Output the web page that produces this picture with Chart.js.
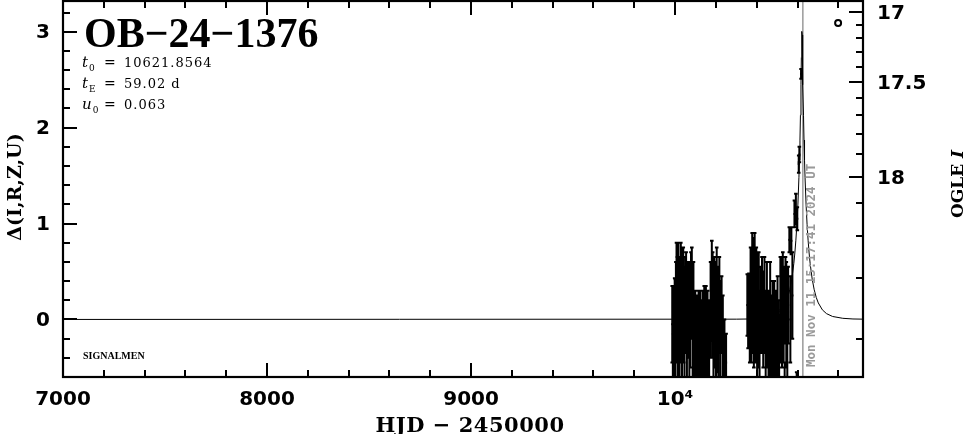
<!DOCTYPE html>
<html>
<head>
<meta charset="utf-8">
<script src="https://cdn.jsdelivr.net/npm/chart.js@4/dist/chart.umd.min.js"></script>
<style>
  html, body { margin: 0; padding: 0; background: #fff; }
  canvas { display: block; }
</style>
</head>
<body>
<canvas id="lc" width="966" height="434"></canvas>
<script>
// OGLE light curve OB-24-1376

const xMajorTicks = [7000, 8000, 9000, 10000];
const xMinorTicks = [7200, 7400, 7600, 7800, 8200, 8400, 8600, 8800,
                     9200, 9400, 9600, 9800, 10200, 10400, 10600, 10800];
const yMajorTicks = [0, 1, 2, 3];
const yMinorTicks = [-0.4, -0.2, 0.2, 0.4, 0.6, 0.8, 1.2, 1.4, 1.6, 1.8,
                     2.2, 2.4, 2.6, 2.8, 3.2];
// OGLE I magnitude ticks on the right, and where they sit on the delta axis
const magLabels = ['17', '', '', '', '', '17.5', '', '', '', '', '18', '', '', '', ''];
const magTickPos = [3.204, 3.069, 2.933, 2.787, 2.631, 2.475, 2.308, 2.131,
                    1.933, 1.725, 1.484, 1.213, 0.869, 0.431, -0.205];

// observations: HJD-2450000, delta, error
const obsHjd = [
  9986, 9989, 9992, 9995, 9998, 10001, 10004,
  10007, 10010, 10013, 10016, 10019, 10022, 10025, 10028, 10031, 10034, 10037, 10040, 10043, 10046,
  10050, 10054, 10058, 10062, 10066, 10070, 10074, 10078, 10082, 10086, 10090, 10094,
  10099, 10103, 10107, 10111, 10115, 10119, 10123, 10127, 10131, 10135, 10139, 10143, 10147, 10151,
  10155, 10159, 10163, 10167,
  10174, 10180, 10184, 10188, 10192, 10196, 10200, 10204, 10208, 10212, 10217, 10222, 10228, 10234,
  10242, 10250,
  10354, 10358, 10362, 10366, 10370, 10374, 10378, 10382, 10386, 10390, 10394, 10398, 10402, 10406,
  10410, 10414, 10420, 10426, 10432, 10438, 10444, 10450,
  10458, 10462, 10466, 10470, 10474, 10478, 10482, 10486, 10490, 10494, 10498, 10502, 10506, 10510,
  10516, 10520, 10524, 10528, 10532, 10537, 10541, 10545, 10550, 10554, 10560, 10565, 10570, 10575,
  10585, 10592, 10596, 10599, 10606, 10609, 10617.5
];
const obsDelta = [
  -0.05, -0.15, 0.02, -0.25, 0.05, -0.10, 0.15,
  0.30, 0.10, -0.05, 0.30, 0.20, -0.15, 0.25, 0.35, 0.10, -0.10, 0.20, 0.30, 0.05, -0.20,
  0.15, 0.25, -0.05, 0.10, 0.20, -0.20, 0.05, 0.25, 0.30, -0.10, 0.15, -0.25,
  -0.15, -0.30, 0.00, -0.40, -0.20, -0.35, -0.10, -0.45, -0.25, -0.05, -0.35, -0.20, -0.50, -0.15,
  -0.30, 0.05, -0.40, -0.25,
  0.10, 0.30, 0.15, -0.10, 0.20, 0.05, -0.20, 0.25, 0.00, -0.30, 0.15, -0.15, 0.05, -0.25,
  -0.40, -0.45,
  0.15, 0.05, 0.20, -0.05, 0.25, 0.10, 0.35, 0.25, 0.05, 0.40, 0.15, 0.30, -0.10, 0.20,
  0.10, -0.20, 0.10, 0.15, 0.00, 0.15, -0.15, 0.05,
  -0.20, -0.35, 0.05, -0.25, -0.45, -0.10, -0.30, 0.00, -0.40, -0.15, -0.35, -0.05, -0.25, -0.45,
  0.10, 0.15, -0.05, 0.15, 0.05, -0.75, 0.20, 0.05, -0.10, 0.15, 0.83, 0.00, 0.82, 0.25,
  1.10, 1.15, -0.95, 1.05, 1.62, 1.72, 2.56
];
const obsErr = [
  0.40, 0.50, 0.30, 0.48, 0.38, 0.52, 0.45,
  0.50, 0.55, 0.55, 0.50, 0.45, 0.55, 0.40, 0.45, 0.55, 0.50, 0.55, 0.45, 0.50, 0.45,
  0.50, 0.45, 0.55, 0.50, 0.40, 0.55, 0.55, 0.45, 0.45, 0.55, 0.45, 0.50,
  0.45, 0.50, 0.25, 0.45, 0.50, 0.55, 0.40, 0.50, 0.45, 0.35, 0.50, 0.55, 0.45, 0.50,
  0.40, 0.25, 0.55, 0.45,
  0.50, 0.52, 0.55, 0.50, 0.45, 0.55, 0.45, 0.50, 0.55, 0.40, 0.50, 0.55, 0.40, 0.50,
  0.40, 0.30,
  0.32, 0.35, 0.28, 0.40, 0.50, 0.55, 0.55, 0.60, 0.55, 0.50, 0.60, 0.45, 0.55, 0.50,
  0.60, 0.50, 0.45, 0.50, 0.50, 0.50, 0.45, 0.55,
  0.50, 0.45, 0.55, 0.50, 0.45, 0.50, 0.55, 0.40, 0.50, 0.45, 0.55, 0.50, 0.45, 0.50,
  0.55, 0.50, 0.45, 0.55, 0.50, 0.30, 0.45, 0.55, 0.50, 0.40, 0.13, 0.45, 0.14, 0.45,
  0.14, 0.16, 0.40, 0.12, 0.09, 0.08, 0.05
];

// model curve (thin line)
const modelHjd = [
  7000, 10300, 10372, 10422, 10472, 10502, 10522, 10542, 10552, 10562, 10572, 10582, 10587,
  10592, 10597, 10602, 10607, 10609.4, 10612, 10614.4, 10617, 10618.9, 10619.9, 10620.9,
  10621.9, 10622.9, 10623.9, 10624.9, 10626.9, 10629.4, 10631.9, 10634.4, 10636.9, 10641.9,
  10646.9, 10651.9, 10656.9, 10661.9, 10671.9, 10681.9, 10691.9, 10701.9, 10721.9, 10741.9,
  10771.9, 10821.9, 10871.9, 10922
];
const modelDelta = [
  0, 0.003, 0.005, 0.012, 0.031, 0.061, 0.100, 0.172, 0.229, 0.309, 0.422, 0.584, 0.693,
  0.826, 0.992, 1.203, 1.482, 1.659, 1.870, 2.129, 2.446, 2.732, 2.866, 2.966,
  3.003, 2.966, 2.866, 2.732, 2.446, 2.129, 1.870, 1.659, 1.482, 1.203,
  0.992, 0.826, 0.693, 0.584, 0.422, 0.309, 0.229, 0.172, 0.100, 0.061,
  0.031, 0.012, 0.005, 0.003
];

const nowHjd = 10626.14;       // Mon Nov 11 15:17:41 2024 UT
const markerHjd = 10799;
const markerDelta = 3.09;

const xMin = 7000, xMax = 10921;
const yMin = -0.6, yMax = 3.32;

const tickFont = { family: 'DejaVu Sans', size: 20, weight: 'bold' };

const noPad = s => { s.paddingTop = 0; s.paddingBottom = 0; s.paddingLeft = 0; s.paddingRight = 0; };

// error bars under the points
const errorBars = {
  id: 'errorBars',
  beforeDatasetsDraw(chart) {
    const { ctx, chartArea: a, scales: { x, y } } = chart;
    ctx.save();
    ctx.beginPath();
    ctx.rect(a.left, a.top, a.right - a.left, a.bottom - a.top);
    ctx.clip();
    ctx.strokeStyle = '#000';
    ctx.lineWidth = 2;
    ctx.beginPath();
    for (let i = 0; i < obsHjd.length; i++) {
      const px = x.getPixelForValue(obsHjd[i]);
      const lo = y.getPixelForValue(obsDelta[i] - obsErr[i]);
      const hi = y.getPixelForValue(obsDelta[i] + obsErr[i]);
      ctx.moveTo(px, lo); ctx.lineTo(px, hi);
      ctx.moveTo(px - 1.8, lo); ctx.lineTo(px + 1.8, lo);
      ctx.moveTo(px - 1.8, hi); ctx.lineTo(px + 1.8, hi);
    }
    ctx.stroke();
    ctx.restore();
  }
};

// box and inward tick marks
const frame = {
  id: 'frame',
  afterDraw(chart) {
    const { ctx, chartArea: a, scales: { x, y, yR } } = chart;
    ctx.save();
    ctx.strokeStyle = '#000';
    ctx.lineWidth = 2;
    ctx.beginPath();
    const tx = (v, len) => {
      const px = Math.round(x.getPixelForValue(v));
      ctx.moveTo(px, a.bottom); ctx.lineTo(px, a.bottom - len);
      ctx.moveTo(px, a.top); ctx.lineTo(px, a.top + len);
    };
    xMajorTicks.forEach(v => tx(v, 14));
    xMinorTicks.forEach(v => tx(v, 7));
    const ty = (v, len) => {
      const py = Math.round(y.getPixelForValue(v));
      ctx.moveTo(a.left, py); ctx.lineTo(a.left + len, py);
    };
    yMajorTicks.forEach(v => ty(v, 14));
    yMinorTicks.forEach(v => ty(v, 7));
    magTickPos.forEach((v, i) => {
      const py = Math.round(yR.getPixelForValue(v));
      const len = magLabels[i] ? 14 : 7;
      ctx.moveTo(a.right, py); ctx.lineTo(a.right - len, py);
    });
    ctx.stroke();
    ctx.lineWidth = 2.2;
    ctx.strokeRect(a.left, a.top, a.right - a.left, a.bottom - a.top);
    ctx.restore();
  }
};

// titles and annotations
const labels = {
  id: 'labels',
  afterDraw(chart) {
    const { ctx, chartArea: a, scales: { x } } = chart;
    ctx.save();
    ctx.fillStyle = '#000';
    ctx.textBaseline = 'alphabetic';

    ctx.font = 'bold 42px "Liberation Serif"';
    ctx.fillText('OB\u221224\u22121376', 84, 47);

    const param = (base, sym, sub, rest) => {
      ctx.font = 'italic 15px "DejaVu Serif"';
      ctx.letterSpacing = '0px';
      ctx.fillText(sym, 82, base);
      const w = ctx.measureText(sym).width;
      ctx.font = '9px "DejaVu Serif"';
      ctx.fillText(sub, 82 + w + 1, base + 4);
      ctx.font = '14px "DejaVu Serif"';
      ctx.fillText('=', 104, base);
      ctx.font = '13px "DejaVu Serif"';
      ctx.letterSpacing = '1px';
      ctx.fillText(rest, 124, base);
      ctx.letterSpacing = '0px';
    };
    param(67, 't', '0', '10621.8564');
    param(88, 't', 'E', '59.02 d');
    param(109, 'u', '0', '0.063');

    ctx.font = 'bold 10px "Liberation Serif"';
    ctx.fillText('SIGNALMEN', 83, 359);

    ctx.font = 'bold 21px "DejaVu Serif"';
    ctx.textAlign = 'center';
    ctx.letterSpacing = '0.5px';
    ctx.fillText('HJD \u2212 2450000', 470, 432);
    ctx.letterSpacing = '0px';

    ctx.save();
    ctx.translate(21, 187);
    ctx.rotate(-Math.PI / 2);
    ctx.font = 'bold 19px "DejaVu Serif"';
    ctx.fillText('\u0394(I,R,Z,U)', 0, 0);
    ctx.restore();

    ctx.save();
    ctx.translate(963, 184);
    ctx.rotate(-Math.PI / 2);
    ctx.textAlign = 'left';
    ctx.font = 'bold 17px "DejaVu Serif"';
    const w1 = ctx.measureText('OGLE ').width;
    ctx.font = 'bold italic 17px "DejaVu Serif"';
    const w2 = ctx.measureText('I').width;
    ctx.font = 'bold 17px "DejaVu Serif"';
    ctx.fillText('OGLE ', -(w1 + w2) / 2, 0);
    ctx.font = 'bold italic 17px "DejaVu Serif"';
    ctx.fillText('I', -(w1 + w2) / 2 + w1, 0);
    ctx.restore();

    ctx.save();
    const px = x.getPixelForValue(nowHjd);
    ctx.translate(px + 9, a.bottom - 10);
    ctx.rotate(-Math.PI / 2);
    ctx.textAlign = 'left';
    ctx.textBaseline = 'middle';
    ctx.fillStyle = '#9a9a9a';
    ctx.font = 'bold 12.5px "DejaVu Sans Mono"';
    ctx.fillText('Mon Nov 11 15:17:41 2024 UT', 0, 0);
    ctx.restore();

    ctx.restore();
  }
};

new Chart(document.getElementById('lc'), {
  type: 'scatter',
  data: {
    datasets: [
      {
        label: 'marker',
        data: [{ x: markerHjd, y: markerDelta }],
        pointRadius: 3,
        pointBorderWidth: 2,
        pointBorderColor: '#000',
        pointBackgroundColor: '#fff'
      },
      {
        label: 'obs',
        data: obsHjd.map((t, i) => ({ x: t, y: obsDelta[i] })),
        pointStyle: 'rect',
        pointRadius: 1.4,
        pointBorderWidth: 0,
        pointBackgroundColor: '#000'
      },
      {
        label: 'model',
        type: 'line',
        data: modelHjd.map((t, i) => ({ x: t, y: modelDelta[i] })),
        borderColor: '#000',
        borderWidth: 1,
        pointRadius: 0,
        tension: 0
      },
      {
        label: 'now',
        type: 'line',
        data: [{ x: nowHjd, y: yMin }, { x: nowHjd, y: yMax }],
        borderColor: '#9a9a9a',
        borderWidth: 1.5,
        pointRadius: 0
      }
    ]
  },
  options: {
    responsive: false,
    animation: false,
    devicePixelRatio: 1,
    layout: { autoPadding: false, padding: { top: 1, left: 0, right: 0, bottom: 0 } },
    plugins: { legend: { display: false }, tooltip: { enabled: false } },
    scales: {
      x: {
        type: 'linear',
        position: 'bottom',
        min: xMin, max: xMax,
        grid: { display: false, drawTicks: false },
        border: { display: false },
        afterBuildTicks: s => { s.ticks = xMajorTicks.map(v => ({ value: v })); },
        afterFit: s => { s.height = 57; noPad(s); },
        ticks: {
          font: tickFont, color: '#000', padding: 11, autoSkip: false, maxRotation: 0,
          callback: v => (v === 10000 ? '10\u2074' : String(v))
        }
      },
      y: {
        type: 'linear',
        position: 'left',
        min: yMin, max: yMax,
        grid: { display: false, drawTicks: false },
        border: { display: false },
        afterBuildTicks: s => { s.ticks = yMajorTicks.map(v => ({ value: v })); },
        afterFit: s => { s.width = 63; noPad(s); },
        ticks: { font: tickFont, color: '#000', padding: 13, autoSkip: false, labelOffset: 1.5 }
      },
      yR: {
        type: 'linear',
        position: 'right',
        min: yMin, max: yMax,
        grid: { display: false, drawTicks: false },
        border: { display: false },
        afterBuildTicks: s => { s.ticks = magTickPos.map(v => ({ value: v })); },
        afterFit: s => { s.width = 103; noPad(s); },
        ticks: {
          font: tickFont, color: '#000', padding: 14, autoSkip: false, labelOffset: 1.5,
          callback: (v, i) => magLabels[i]
        }
      }
    }
  },
  plugins: [errorBars, frame, labels]
});
</script>
</body>
</html>
